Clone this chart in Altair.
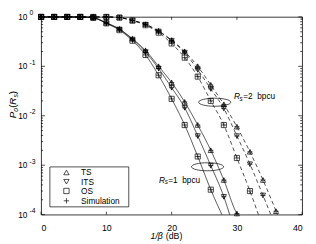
import altair as alt
import pandas as pd

# ---- data (outage probability vs 1/beta in dB) ----
db_grid = [0, 2, 4, 6, 8, 10, 12, 14, 16, 18, 20, 22, 24, 26, 28, 30, 32, 34, 36]

# Rs = 1 bpcu (solid)
TS_1 = [1.0, 1.0, 1.0, 1.0, 0.96, 0.76, 0.57, 0.36, 0.21, 0.10, 0.047, 0.019, 6.5e-3, 2.0e-3, 5.0e-4, 1.05e-4]
ITS_1 = [1.0, 1.0, 1.0, 1.0, 0.96, 0.75, 0.56, 0.35, 0.195, 0.090, 0.037, 0.0145, 3.9e-3, 9.8e-4, 2.3e-4]
OS_1 = [1.0, 1.0, 1.0, 1.0, 0.96, 0.74, 0.54, 0.33, 0.17, 0.066, 0.022, 6.5e-3, 1.5e-3, 3.2e-4]
# Rs = 2 bpcu (dashed)
TS_2 = [1.0, 1.0, 1.0, 1.0, 1.0, 1.0, 0.97, 0.85, 0.71, 0.52, 0.34, 0.20, 0.10, 0.042, 0.017, 6.0e-3, 1.86e-3, 5.0e-4, 1.17e-4]
ITS_2 = [1.0, 1.0, 1.0, 1.0, 1.0, 1.0, 0.97, 0.85, 0.70, 0.51, 0.33, 0.19, 0.085, 0.035, 0.014, 3.9e-3, 1.05e-3, 2.45e-4]
OS_2 = [1.0, 1.0, 1.0, 1.0, 1.0, 1.0, 0.97, 0.84, 0.68, 0.48, 0.29, 0.15, 0.062, 0.020, 6.5e-3, 1.4e-3, 3.0e-4]
# where each curve leaves the plot at 1e-4
end_db = {"TS_1": 30.1, "ITS_1": 28.9, "OS_1": 27.7, "TS_2": 36.2, "ITS_2": 35.2, "OS_2": 33.3}
floor_p = 1e-4

kinds = ["TS", "ITS", "OS", "Simulation"]
x_ticks = [0, 10, 20, 30, 40]
y_major = [1, 0.1, 0.01, 0.001, 0.0001]
y_exp = ["0", "-1", "-2", "-3", "-4"]
y_minor = [m * 10.0 ** k for k in range(-4, 0) for m in range(2, 10)]

# annotations (data coordinates)
ell_db = [26.6, 25.5]
ell_p = [0.0188, 9.3e-4]
ann_db = [29.55, 18.06]
ann_p = [0.0245, 5.0e-4]
ann_rate = ["2", "1"]

# ---- tables ----
curves = [("TS", "1", TS_1), ("ITS", "1", ITS_1), ("OS", "1", OS_1),
          ("TS", "2", TS_2), ("ITS", "2", ITS_2), ("OS", "2", OS_2)]
line_rows, pt_rows = [], []
for name, rate, vals in curves:
    cid = f"{name}_{rate}"
    for d, p in zip(db_grid, vals):
        line_rows.append({"cid": cid, "rate": rate, "db": d, "p": p})
        pt_rows.append({"db": d, "p": p, "kind": name})
        pt_rows.append({"db": d, "p": p, "kind": "Simulation"})
    line_rows.append({"cid": cid, "rate": rate, "db": end_db[cid], "p": floor_p})
lines_df = pd.DataFrame(line_rows)
pts_df = pd.DataFrame(pt_rows)

W, H = 268, 203
FONT = "Liberation Sans"
PLUS = "M-1,0L1,0M0,-1L0,1"
ELLIPSE = "M-1,0A1,0.25,0,1,1,1,0A1,0.25,0,1,1,-1,0Z"
shape_scale = alt.Scale(domain=kinds, range=["triangle-up", "triangle-down", "square", PLUS])

X = alt.X("db:Q", scale=alt.Scale(domain=[0, 40], nice=False),
          axis=alt.Axis(values=x_ticks, ticks=False, tickSize=0, domain=False, grid=False,
                        labelFont=FONT, labelFontSize=9, labelColor="black",
                        labelPadding=9, title=None))
Y = alt.Y("p:Q", scale=alt.Scale(type="log", domain=[1e-4, 1], nice=False), axis=None)

lines = alt.Chart(lines_df).mark_line(color="black", strokeWidth=0.7, interpolate="monotone").encode(
    x=X, y=Y, detail="cid:N",
    strokeDash=alt.StrokeDash("rate:N", scale=alt.Scale(domain=["1", "2"], range=[[1, 0], [4, 3]]), legend=None),
)
points = alt.Chart(pts_df).mark_point(color="black", filled=False, strokeWidth=0.7, size=28, opacity=1).encode(
    x=X, y=Y, shape=alt.Shape("kind:N", scale=shape_scale, legend=None),
)

# ticks (inward)
xt_df = pd.DataFrame({"db": x_ticks})
ymaj_df = pd.DataFrame({"p": y_major, "e": y_exp})
ymin_df = pd.DataFrame({"p": y_minor})
tick_style = dict(color="black", strokeWidth=0.7)
xt_bottom = alt.Chart(xt_df).mark_rule(**tick_style).encode(x=X, y=alt.value(H), y2=alt.value(H - 3))
xt_top = alt.Chart(xt_df).mark_rule(**tick_style).encode(x=X, y=alt.value(0), y2=alt.value(3))
yl_major = alt.Chart(ymaj_df).mark_rule(**tick_style).encode(y=Y, x=alt.value(0), x2=alt.value(4))
yr_major = alt.Chart(ymaj_df).mark_rule(**tick_style).encode(y=Y, x=alt.value(W - 4), x2=alt.value(W))
yl_minor = alt.Chart(ymin_df).mark_rule(**tick_style).encode(y=Y, x=alt.value(0), x2=alt.value(2))
yr_minor = alt.Chart(ymin_df).mark_rule(**tick_style).encode(y=Y, x=alt.value(W - 2), x2=alt.value(W))

# y tick labels 10^k
ylab = alt.Chart(ymaj_df).mark_text(text="10", align="right", baseline="middle", font=FONT,
                                    fontSize=8.5, color="black").encode(y=Y, x=alt.value(-14))
ysup = alt.Chart(ymaj_df).mark_text(align="left", baseline="middle", font=FONT, fontSize=7,
                                    dy=-3.5, color="black").encode(y=Y, x=alt.value(-12), text="e:N")

# ellipses and R_s annotations
ell_df = pd.DataFrame({"db": ell_db, "p": ell_p})
ellipses = alt.Chart(ell_df).mark_point(shape=ELLIPSE, size=1089, filled=False, color="black",
                                        strokeWidth=0.7, opacity=1).encode(x=X, y=Y)
ann_df = pd.DataFrame({"db": ann_db, "p": ann_p, "rate": ann_rate})
ann_df["rest"] = "=" + ann_df["rate"] + "\u00a0\u00a0bpcu"
ann_R = alt.Chart(ann_df).mark_text(text="R", align="left", baseline="middle", font=FONT,
                                    fontSize=8.5, fontStyle="italic", color="black").encode(x=X, y=Y)
ann_s = alt.Chart(ann_df).mark_text(text="s", align="left", baseline="middle", font=FONT,
                                    fontSize=6.5, fontStyle="italic", dx=5.8, dy=2.5,
                                    color="black").encode(x=X, y=Y)
ann_rest = alt.Chart(ann_df).mark_text(align="left", baseline="middle", font=FONT, fontSize=8.5,
                                       dx=9.5, color="black").encode(x=X, y=Y, text="rest:N")

# legend (manual)
legend_box = alt.Chart(pd.DataFrame({"k": [0]})).mark_rect(fill="white", stroke="black", strokeWidth=0.7).encode(
    x=alt.value(9), x2=alt.value(90), y=alt.value(154), y2=alt.value(195))
legend_layers = []
row_y = [159.7, 169.2, 178.7, 188.8]
for k, yy in zip(kinds, row_y):
    shp = {"TS": "triangle-up", "ITS": "triangle-down", "OS": "square", "Simulation": PLUS}[k]
    legend_layers.append(
        alt.Chart(pd.DataFrame({"k": [k]})).mark_point(shape=shp, size=30, filled=False, color="black",
                                                       strokeWidth=0.7, opacity=1)
        .encode(x=alt.value(26), y=alt.value(yy)))
    legend_layers.append(
        alt.Chart(pd.DataFrame({"k": [k]})).mark_text(align="left", baseline="middle", font=FONT,
                                                      fontSize=8.5, color="black")
        .encode(x=alt.value(41), y=alt.value(yy), text="k:N"))


# axis titles built from pieces (italic + subscripts)
def piece(txt, px, py, size=10, style="normal", angle=0, align="center"):
    return alt.Chart(pd.DataFrame({"t": [txt]})).mark_text(
        align=align, baseline="middle", font=FONT, fontSize=size, fontStyle=style,
        angle=angle, color="black").encode(x=alt.value(px), y=alt.value(py), text="t:N")


top = 14
ytitle = [
    piece("P", -28.5, 114.7 - top, 10, "italic", 270),
    piece("o", -26, 109.4 - top, 7, "italic", 270),
    piece("(", -28.5, 105.7 - top, 10, "normal", 270),
    piece("R", -28.5, 100.5 - top, 10, "italic", 270),
    piece("s", -26, 95.1 - top, 7, "italic", 270),
    piece(")", -28.5, 91.7 - top, 10, "normal", 270),
]
xtitle = [
    piece("1/β", 125, 239.5 - top, 9, "italic", 0, "right"),
    piece("(dB)", 128, 239.5 - top, 9, "normal", 0, "left"),
]

chart = alt.layer(
    lines, points, xt_bottom, xt_top, yl_major, yr_major, yl_minor, yr_minor,
    ylab, ysup, ellipses, ann_R, ann_s, ann_rest, legend_box, *legend_layers, *ytitle, *xtitle,
).properties(
    width=W, height=H, autosize=alt.AutoSizeParams(type="none"),
    padding={"left": 34, "top": 6, "right": 6, "bottom": 27},
).configure_view(stroke="black", strokeWidth=0.8)

chart.save("out.html", embed_options={"renderer": "svg", "actions": False})
